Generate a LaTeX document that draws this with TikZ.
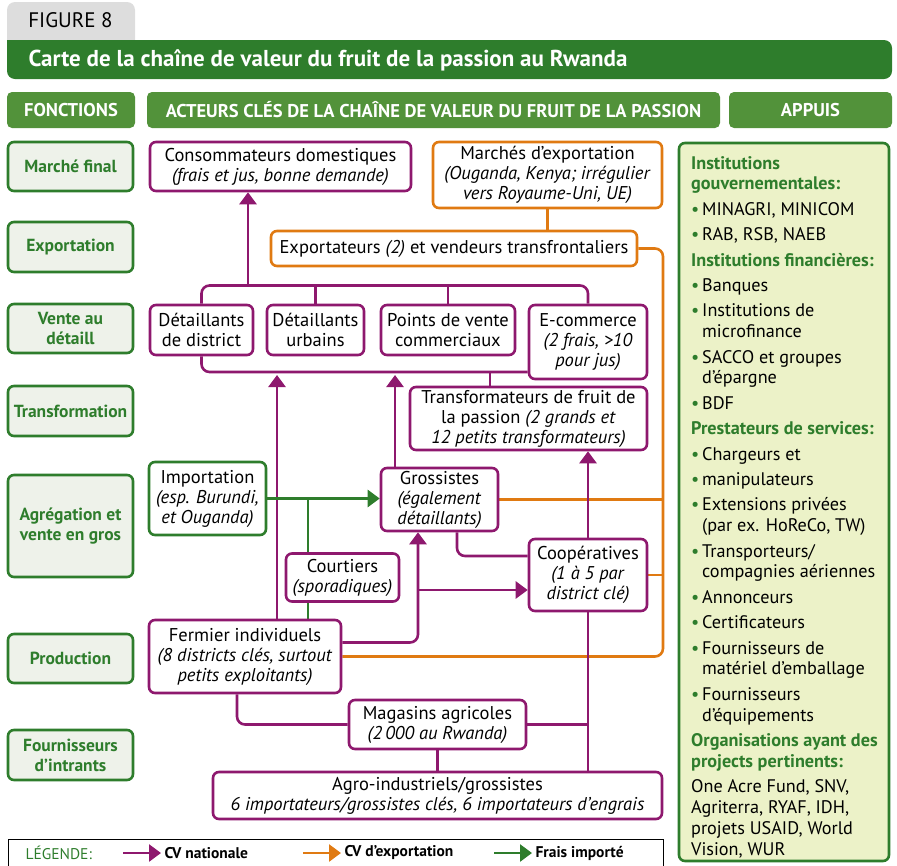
\documentclass[tikz,border=0pt]{standalone}
\usepackage{fontspec}
\setmainfont{PT Sans}
\usetikzlibrary{arrows.meta, positioning, backgrounds}
\definecolor{cvpurple}{RGB}{142,24,110}
\definecolor{cvorange}{RGB}{224,122,18}
\definecolor{darkgreen}{RGB}{46,125,44}
\definecolor{headgreen}{RGB}{82,146,58}
\definecolor{fonctfill}{RGB}{238,242,234}
\definecolor{appuifill}{RGB}{236,242,200}
\definecolor{tabgray}{RGB}{221,221,221}
\newcommand{\appbul}{\makebox[11pt][l]{\textcolor{darkgreen}{\textbullet}}}
\newcommand{\appind}{\hspace*{11pt}}
\newcommand{\apphead}[1]{\textcolor{darkgreen}{\bfseries #1}}

\begin{document}
\begin{tikzpicture}[
    x=1pt, y=-1pt,
    every node/.style={font=\fontsize{18.5}{20}\selectfont},
    fonction/.style={draw=darkgreen, line width=2.6pt, fill=fonctfill, rounded corners=6pt, minimum width=125pt, text=darkgreen, align=center, inner sep=0pt, font=\fontsize{17.5}{20}\selectfont\bfseries},
    header/.style={fill=headgreen, rounded corners=5pt, text=white, font=\fontsize{18.5}{20}\selectfont\bfseries, minimum height=36pt, inner sep=0pt},
    actor/.style={draw=cvpurple, line width=2.6pt, fill=white, rounded corners=6pt, align=center, inner sep=0pt},
    exactor/.style={actor, draw=cvorange},
    imactor/.style={actor, draw=darkgreen},
    cvline/.style={draw=cvpurple, line width=2.6pt},
    cvarrow/.style={cvline, -{Triangle[width=17pt,length=12pt]}},
    exline/.style={draw=cvorange, line width=2.6pt},
    exarrow/.style={exline, -{Triangle[width=17pt,length=12pt]}},
    frline/.style={draw=darkgreen, line width=2.6pt},
    frarrow/.style={frline, -{Triangle[width=17pt,length=12pt]}}
]
    \useasboundingbox (0,0) rectangle (897,865);

    % Figure tab and title
    \fill[tabgray, rounded corners=8pt] (7,50) -- (7,2) -- (135,2) -- (135,50) -- cycle;
    \node (figlabel) at (70.5,20) {\fontsize{21}{22}\selectfont FIGURE 8};
    \fill[darkgreen, rounded corners=8pt] (7,40) rectangle (892,79);
    \fill[darkgreen] (7,40) rectangle (30,60);
    \node[anchor=west, text=white, font=\fontsize{23}{24}\selectfont\bfseries] (titre) at (25,60) {Carte de la chaîne de valeur du fruit de la passion au Rwanda};

    % Column headers
    \node[header, minimum width=128pt] (hfonct) at (71,110) {FONCTIONS};
    \node[header, minimum width=573pt] (hacteur) at (433.5,110) {ACTEURS CLÉS DE LA CHAÎNE DE VALEUR DU FRUIT DE LA PASSION};
    \node[header, minimum width=163pt] (happui) at (810.5,110) {APPUIS};

    % Functions
    \node[fonction, minimum height=49pt] (fmarche) at (70.5,166.5) {Marché final};
    \node[fonction, minimum height=50pt] (fexport) at (70.5,247) {Exportation};
    \node[fonction, minimum height=49pt] (fvente) at (70.5,328.5) {Vente au\\détaill};
    \node[fonction, minimum height=50pt] (ftransf) at (70.5,411) {Transformation};
    \node[fonction, minimum height=102pt] (fagreg) at (70.5,526) {Agrégation et\\vente en gros};
    \node[fonction, minimum height=49pt] (fprod) at (70.5,658.5) {Production};
    \node[fonction, minimum height=50pt] (fintr) at (70.5,755) {Fournisseurs\\d’intrants};

    % Actors
    \node[actor, minimum width=261pt, minimum height=49pt] (conso) at (280.5,166.5) {Consommateurs domestiques\\\textit{(frais et jus, bonne demande)}};
    \node[exactor, minimum width=229pt, minimum height=66pt] (marches) at (547.5,175) {Marchés d’exportation\\\textit{(Ouganda, Kenya; irrégulier}\\\textit{vers Royaume-Uni, UE)}};
    \node[exactor, minimum width=366pt, minimum height=35pt] (export) at (454,248.5) {Exportateurs \textit{(2)} et vendeurs transfrontaliers};
    \node[actor, minimum width=103pt, minimum height=50pt] (detdist) at (201.5,330) {Détaillants\\de district};
    \node[actor, minimum width=97pt, minimum height=50pt] (deturb) at (315.5,330) {Détaillants\\urbains};
    \node[actor, minimum width=134pt, minimum height=50pt] (ptsvente) at (448,330) {Points de vente\\commerciaux};
    \node[actor, minimum width=118pt, minimum height=74pt] (ecom) at (588,342) {E-commerce\\\textit{(2 frais, >10}\\\textit{pour jus)}};
    \node[actor, minimum width=237pt, minimum height=63pt] (transf) at (528.5,418.5) {Transformateurs de fruit de\\la passion \textit{(2 grands et}\\\textit{12 petits transformateurs)}};
    \node[imactor, minimum width=117pt, minimum height=73pt] (import) at (207.5,498.5) {Importation\\\textit{(esp. Burundi,}\\\textit{et Ouganda)}};
    \node[actor, minimum width=117pt, minimum height=63pt] (gross) at (439.5,499.5) {Grossistes\\\textit{(également}\\\textit{détaillants)}};
    \node[actor, minimum width=113pt, minimum height=48pt] (court) at (342.5,577.5) {Courtiers\\\textit{(sporadiques)}};
    \node[actor, minimum width=118pt, minimum height=72pt] (coop) at (588,575) {Coopératives\\\textit{(1 à 5 par}\\\textit{district clé)}};
    \node[actor, minimum width=192pt, minimum height=73pt] (fermier) at (245,656.5) {Fermier individuels\\\textit{(8 districts clés, surtout}\\\textit{petits exploitants)}};
    \node[actor, minimum width=177pt, minimum height=49pt] (magasins) at (437.5,724.5) {Magasins agricoles\\\textit{(2\,000 au Rwanda)}};
    \node[actor, minimum width=449pt, minimum height=47pt] (agro) at (437.5,795.5) {Agro-industriels/grossistes\\\textit{6 importateurs/grossistes clés, 6 importateurs d’engrais}};

    % Supports
    \node[draw=darkgreen, line width=2.6pt, fill=appuifill, rounded corners=6pt, minimum width=210pt, minimum height=718pt] (appui) at (784,502) {};
    \node[anchor=north west, align=left, inner sep=0pt, font=\fontsize{18.2}{20.8}\selectfont] (appuitxt) at (691,156) {%
        \apphead{Institutions}\\
        \apphead{gouvernementales:}\\[4.6pt]
        \appbul MINAGRI, MINICOM\\[4.6pt]
        \appbul RAB, RSB, NAEB\\[4.6pt]
        \apphead{Institutions financières:}\\[4.6pt]
        \appbul Banques\\[4.6pt]
        \appbul Institutions de\\
        \appind microfinance\\[4.6pt]
        \appbul SACCO et groupes\\
        \appind d’épargne\\[4.6pt]
        \appbul BDF\\[4.6pt]
        \apphead{Prestateurs de services:}\\[4.6pt]
        \appbul Chargeurs et\\[4.6pt]
        \appbul manipulateurs\\[4.6pt]
        \appbul Extensions privées\\
        \appind (par ex. HoReCo, TW)\\[4.6pt]
        \appbul Transporteurs/\\
        \appind compagnies aériennes\\[4.6pt]
        \appbul Annonceurs\\[4.6pt]
        \appbul Certificateurs\\[4.6pt]
        \appbul Fournisseurs de\\
        \appind matériel d’emballage\\[4.6pt]
        \appbul Fournisseurs\\
        \appind d’équipements\\[4.6pt]
        \apphead{Organisations ayant des}\\
        \apphead{projects pertinents:}\\[4.6pt]
        One Acre Fund, SNV,\\
        Agriterra, RYAF, IDH,\\
        projets USAID, World\\
        Vision, WUR};

    % Bus lines and columns
    \coordinate (topbus) at (0,285.5);
    \coordinate (botbus) at (0,372);
    \coordinate (upconso) at (248,0);
    \coordinate (dropx) at (490,0);
    \coordinate (fermx) at (277,0);
    \coordinate (grossx) at (395,0);
    \coordinate (gsouthx) at (457,0);
    \coordinate (greenx) at (308,0);
    \coordinate (fermx2) at (418,0);
    \coordinate (orbus) at (663,0);
    \coordinate (storex) at (237,0);
    \coordinate (coopin) at ([yshift=-15pt]coop.west);
    \coordinate (coopgr) at ([yshift=19pt]coop.west);
    \coordinate (fermout) at ([yshift=14pt]fermier.east);

    \begin{scope}[on background layer]
        % Export chain
        \draw[exline] (marches.south) -- (marches.south |- export.north);
        \draw[exline, rounded corners=8pt] (export.east) -| (fermier.east -| orbus) -- (fermier.east);
        \draw[exline] (gross.east) -- (gross.east -| orbus);
        \draw[exline] (coop.east) -- (coop.east -| orbus);

        % Retail buses
        \draw[cvline, rounded corners=8pt] (detdist.north) |- (topbus -| ecom.north) -- (ecom.north);
        \draw[cvline] (deturb.north) -- (deturb.north |- topbus);
        \draw[cvline] (ptsvente.north) -- (ptsvente.north |- topbus);
        \draw[cvarrow] (topbus -| upconso) -- (conso.south -| upconso);
        \draw[cvline, rounded corners=8pt] (detdist.south) |- (ecom.west |- botbus);
        \draw[cvline] (botbus -| dropx) -- (transf.north -| dropx);

        % Import
        \draw[frline] (import.east -| greenx) -- (fermier.north -| greenx);

        % National chain
        \draw[cvarrow, shorten >=3pt] (fermier.north -| fermx) -- (botbus -| fermx);
        \draw[cvarrow, shorten >=3pt] (gross.north -| grossx) -- (botbus -| grossx);
        \draw[cvarrow] (coop.north) -- (coop.north |- transf.south);
        \draw[cvline, rounded corners=8pt] (gross.south -| gsouthx) |- (coopgr);
        \draw[cvarrow, rounded corners=8pt] (fermout) -| (gross.south -| fermx2);
        \draw[cvarrow] (coopin -| fermx2) -- (coopin);
        \draw[frarrow] (import.east) -- (import.east -| gross.west);

        % Inputs
        \draw[cvline, rounded corners=8pt] (fermier.south -| storex) |- (magasins.west);
        \draw[cvline] (magasins.east) -- (magasins.east -| coop.south);
        \draw[cvline] (coop.south) -- (coop.south |- agro.north);
        \draw[cvline] (magasins.south) -- (magasins.south |- agro.north);
    \end{scope}

    % Legend
    \node[draw=black, line width=1.2pt, minimum width=655pt, minimum height=40pt, anchor=north west, inner sep=0pt] (legende) at (7.5,838.5) {};
    \node[anchor=west, text=darkgreen, font=\fontsize{15.5}{18}\selectfont] (leglab) at (22,853) {LÉGENDE:};
    \node[anchor=west, font=\fontsize{15.5}{18}\selectfont\bfseries] (legcv) at (161,853) {CV nationale};
    \node[anchor=west, font=\fontsize{15.5}{18}\selectfont\bfseries] (legex) at (341,853) {CV d’exportation};
    \node[anchor=west, font=\fontsize{15.5}{18}\selectfont\bfseries] (legfr) at (532,853) {Frais importé};
    \coordinate (lgcv) at (123,853);
    \coordinate (lgex) at (303,853);
    \coordinate (lgfr) at (494,853);
    \draw[cvarrow] (lgcv) -- (legcv.west);
    \draw[exarrow] (lgex) -- (legex.west);
    \draw[frarrow] (lgfr) -- (legfr.west);
\end{tikzpicture}
\end{document}
